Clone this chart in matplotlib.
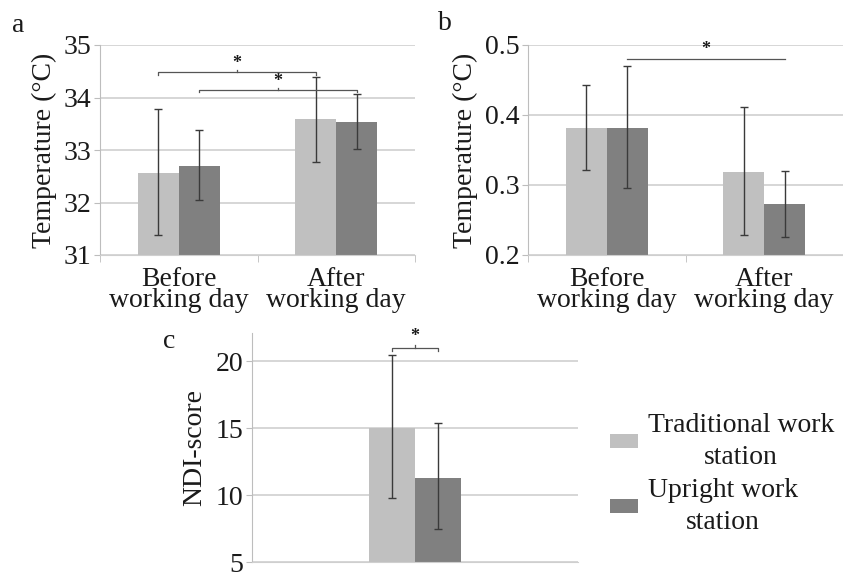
import matplotlib
matplotlib.use("Agg")
import matplotlib.pyplot as plt
from matplotlib.patches import Patch
import numpy as np

plt.rcParams['font.family'] = ['Liberation Serif', 'DejaVu Serif']

# ---- data ----
categories = ["Before\nworking day", "After\nworking day"]
series_names = ["Traditional work\nstation", "Upright work\nstation"]

a_trad = [32.57, 33.59]
a_trad_lo = [31.38, 32.77]
a_trad_hi = [33.78, 34.39]
a_upr = [32.70, 33.54]
a_upr_lo = [32.05, 33.02]
a_upr_hi = [33.38, 34.07]

b_trad = [0.381, 0.319]
b_trad_lo = [0.321, 0.228]
b_trad_hi = [0.443, 0.411]
b_upr = [0.381, 0.273]
b_upr_lo = [0.296, 0.226]
b_upr_hi = [0.470, 0.320]

c_trad = [15.0]
c_trad_lo = [9.78]
c_trad_hi = [20.45]
c_upr = [11.27]
c_upr_lo = [7.46]
c_upr_hi = [15.37]

a_yticks = [31, 32, 33, 34, 35]
b_yticks = [0.2, 0.3, 0.4, 0.5]
b_yticklabels = ["0.2", "0.3", "0.4", "0.5"]
c_yticks = [5, 10, 15, 20]

LIGHT = "#c0c0c0"
DARK = "#808080"
GRID = "#cfcfcf"
TXT = "#1a1a1a"
ERR = "#3a3a3a"
FS = 20

W, H = 843, 576
fig = plt.figure(figsize=(W / 100, H / 100), dpi=100)


def px_axes(l, t, r, b):
    return fig.add_axes([l / W, 1 - b / H, (r - l) / W, (b - t) / H])


def style(ax):
    for s in ["top", "right"]:
        ax.spines[s].set_visible(False)
    ax.spines["left"].set_color("#bdbdbd")
    ax.spines["bottom"].set_color(GRID)
    ax.yaxis.grid(True, color=GRID, linewidth=1.2)
    ax.set_axisbelow(True)
    ax.tick_params(axis="y", length=4, color="#bdbdbd", labelsize=FS,
                   labelcolor=TXT, pad=2)
    ax.tick_params(axis="x", length=0, labelsize=FS, labelcolor=TXT, pad=9)


def bars(ax, x, w, vals, lo, hi, color):
    vals = np.asarray(vals)
    err = np.vstack([vals - np.asarray(lo), np.asarray(hi) - vals])
    ax.bar(x, vals, width=w, color=color, zorder=2)
    ax.errorbar(x, vals, yerr=err, fmt="none", ecolor=ERR, elinewidth=1.0,
                capsize=3, capthick=1.0, zorder=3)


def bracket(ax, x0, x1, y, tick, star_y):
    ax.plot([x0, x0, x1, x1], [y - tick, y, y, y - tick], color="#555555",
            lw=0.9, zorder=4)
    xm = (x0 + x1) / 2
    ax.plot([xm, xm], [y, y + tick * 0.8], color="#555555", lw=0.9, zorder=4)
    ax.text(xm, star_y, "*", ha="center", va="center", fontsize=13,
            color=TXT, fontweight="bold")


bw = 0.26
x = np.arange(len(categories))

# ---- panel a ----
ax_a = px_axes(100, 45, 415, 255)
style(ax_a)
bars(ax_a, x - bw / 2, bw, a_trad, a_trad_lo, a_trad_hi, LIGHT)
bars(ax_a, x + bw / 2, bw, a_upr, a_upr_lo, a_upr_hi, DARK)
ax_a.set_xlim(-0.5, 1.5)
ax_a.set_ylim(31, 35)
ax_a.set_yticks(a_yticks)
ax_a.set_xticks(x)
ax_a.set_xticklabels(categories, linespacing=0.78)
ax_a.set_xticks([-0.5, 0.5, 1.5], minor=True)
ax_a.tick_params(axis="x", which="minor", length=5, color="#bdbdbd")
ax_a.set_ylabel("Temperature (°C)", fontsize=FS, color=TXT, labelpad=5)
bracket(ax_a, -bw / 2, 1 - bw / 2, 34.48, 0.05, 34.64)
bracket(ax_a, bw / 2, 1 + bw / 2, 34.15, 0.05, 34.31)
fig.text(12 / W, 1 - 26 / H, "a", fontsize=FS, color=TXT, va="center")

# ---- panel b ----
ax_b = px_axes(528, 45, 843, 255)
style(ax_b)
bars(ax_b, x - bw / 2, bw, b_trad, b_trad_lo, b_trad_hi, LIGHT)
bars(ax_b, x + bw / 2, bw, b_upr, b_upr_lo, b_upr_hi, DARK)
ax_b.set_xlim(-0.5, 1.5)
ax_b.set_ylim(0.2, 0.5)
ax_b.set_yticks(b_yticks)
ax_b.set_yticklabels(b_yticklabels)
ax_b.set_xticks(x)
ax_b.set_xticklabels(categories, linespacing=0.78)
ax_b.set_xticks([-0.5, 0.5, 1.5], minor=True)
ax_b.tick_params(axis="x", which="minor", length=5, color="#bdbdbd")
ax_b.set_ylabel("Temperature (°C)", fontsize=FS, color=TXT, labelpad=5)
bracket(ax_b, bw / 2, 1 + bw / 2, 0.480, 0.0, 0.493)
fig.text(438 / W, 1 - 24 / H, "b", fontsize=FS, color=TXT, va="center")

# ---- panel c ----
cw = 0.141
ax_c = px_axes(252, 333, 578, 562)
style(ax_c)
bars(ax_c, [-cw / 2], cw, c_trad, c_trad_lo, c_trad_hi, LIGHT)
bars(ax_c, [cw / 2], cw, c_upr, c_upr_lo, c_upr_hi, DARK)
ax_c.set_xlim(-0.5, 0.5)
ax_c.set_ylim(5, 22.09)
ax_c.set_yticks(c_yticks)
ax_c.set_xticks([])
ax_c.set_ylabel("NDI-score", fontsize=FS, color=TXT, labelpad=6)
bracket(ax_c, -cw / 2, cw / 2, 20.97, 0.25, 21.85)
fig.text(163 / W, 1 - 342 / H, "c", fontsize=FS, color=TXT, va="center")

# ---- legend ----
handles = [Patch(facecolor=LIGHT, edgecolor="none"),
           Patch(facecolor=DARK, edgecolor="none")]
leg = fig.legend(handles, series_names, loc="center",
                 bbox_to_anchor=(722 / W, 1 - 474 / H), frameon=False,
                 fontsize=FS, handlelength=1.0, handleheight=0.4,
                 handletextpad=0.35, labelspacing=0.28, borderpad=0)
for t in leg.get_texts():
    t.set_multialignment("center")
    t.set_linespacing(1.4)
    t.set_color(TXT)

fig.savefig("out.png", dpi=100)
